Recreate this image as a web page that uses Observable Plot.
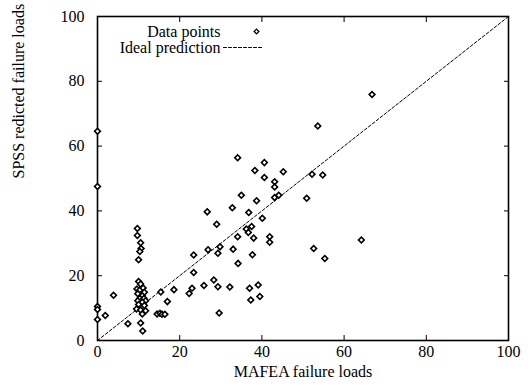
<!DOCTYPE html>
<html><head><meta charset="utf-8">
<script src="https://cdn.jsdelivr.net/npm/d3@7"></script>
<script src="https://cdn.jsdelivr.net/npm/@observablehq/plot@0.6"></script>
<style>body{margin:0;background:#fff;} svg{display:block;}</style>
</head><body><div id="chart"></div>
<script>
const xLabel = "MAFEA failure loads";
const yLabel = "SPSS redicted failure loads";
const legendLabels = ["Data points", "Ideal prediction"];
const xTicks = [0, 20, 40, 60, 80, 100];
const yTicks = [0, 20, 40, 60, 80, 100];
const idealX = [0, 100];
const idealY = [0, 100];
const mafea = [0,0,0,0,0,1.9,3.9,7.4,
 9.7,9.7,10.5,10.6,10.3,10.0,
 10.0,10.5,9.6,10.3,11.1,11.4,9.8,10.9,10.3,11.3,11.7,9.8,10.9,10.0,11.4,9.5,10.5,11.7,10.9,10.5,11.0,
 14.5,15.2,15.7,16.4,15.4,17.0,18.6,22.3,
 23.0,23.4,23.4,25.9,26.9,26.7,28.3,29.0,29.3,29.3,29.6,29.8,32.2,32.8,33.0,34.1,34.1,34.2,35.0,36.2,36.7,36.8,37.0,37.3,37.5,37.7,38.0,38.3,38.7,39.1,39.5,40.1,40.6,40.6,41.9,41.9,43.1,43.1,43.1,44.1,45.2,
 50.9,52.2,52.6,53.6,54.8,55.3,64.2,66.8];
const spss = [64.6,47.5,10.5,9.6,6.5,7.7,14.0,5.2,
 34.6,32.4,30.2,28.4,27.5,24.9,
 18.2,17.4,15.9,15.6,16.2,14.9,14.4,13.8,13.0,13.0,12.3,12.3,11.8,11.1,10.8,9.7,9.4,9.2,8.2,5.4,2.9,
 8.2,8.4,8.1,8.1,15.0,12.0,15.7,14.5,
 16.1,21.0,26.4,17.0,28.0,39.7,18.7,35.9,26.9,16.6,8.5,28.9,16.5,41.0,28.2,32.0,56.4,23.8,44.8,34.4,33.3,39.5,16.1,12.5,35.2,26.5,31.6,52.5,43.1,17.1,13.6,37.7,54.9,50.3,32.0,30.3,49.0,47.4,44.1,44.8,52.1,
 43.9,51.3,28.4,66.2,51.1,25.3,31.0,75.9];

const points = mafea.map((x, i) => ({x, y: spss[i]}));
const ideal = idealX.map((x, i) => ({x, y: idealY[i]}));
const hline = {draw(ctx, l) { ctx.moveTo(0, 0); ctx.lineTo(0, -l); }};
const font = "'Liberation Serif', 'DejaVu Serif', serif";

const chart = Plot.plot({
  width: 528, height: 391,
  marginLeft: 97, marginRight: 20, marginTop: 16, marginBottom: 51,
  style: {fontFamily: font, fontSize: "16px", color: "black", background: "white"},
  x: {domain: [0, 100]},
  y: {domain: [0, 100]},
  marks: [
    Plot.axisX(xTicks, {anchor: "bottom", tickSize: 0, tickPadding: 5, fontSize: 16, label: null}),
    Plot.axisY(yTicks, {anchor: "left", tickSize: 0, tickPadding: 13, fontSize: 16, label: null}),
    Plot.axisX(xTicks, {anchor: "bottom", tickSize: -5, text: null, label: null}),
    Plot.axisX(xTicks, {anchor: "top", tickSize: -5, text: null, label: null}),
    Plot.axisY(yTicks, {anchor: "left", tickSize: -5, text: null, label: null}),
    Plot.axisY(yTicks, {anchor: "right", tickSize: -5, text: null, label: null}),
    Plot.frame({stroke: "black", strokeWidth: 1.6}),
    Plot.line(ideal, {x: "x", y: "y", stroke: "black", strokeWidth: 1, strokeDasharray: "3,2"}),
    Plot.dot(points, {x: "x", y: "y", symbol: "square", rotate: 45, r: 2.3, stroke: "black", strokeWidth: 1.6, fill: "white"}),
    Plot.text([legendLabels[0]], {frameAnchor: "top-left", dx: 123, dy: 15, textAnchor: "end", lineAnchor: "middle", fontSize: 16}),
    Plot.text([legendLabels[1]], {frameAnchor: "top-left", dx: 123, dy: 31, textAnchor: "end", lineAnchor: "middle", fontSize: 16}),
    Plot.dot([0], {frameAnchor: "top-left", dx: 159, dy: 15, symbol: "square", rotate: 45, r: 1.9, stroke: "black", strokeWidth: 1.3, fill: "white"}),
    Plot.vector([0], {frameAnchor: "top-left", dx: 126, dy: 31, rotate: 90, length: 38, anchor: "start", shape: hline, stroke: "black", strokeWidth: 1, strokeDasharray: "3,2"}),
    Plot.text([xLabel], {frameAnchor: "bottom", dy: 31, lineAnchor: "middle", fontSize: 16}),
    Plot.text([yLabel], {frameAnchor: "left", dx: -79, rotate: -90, fontSize: 16})
  ]
});
document.getElementById("chart").append(chart);
</script>
</body></html>
